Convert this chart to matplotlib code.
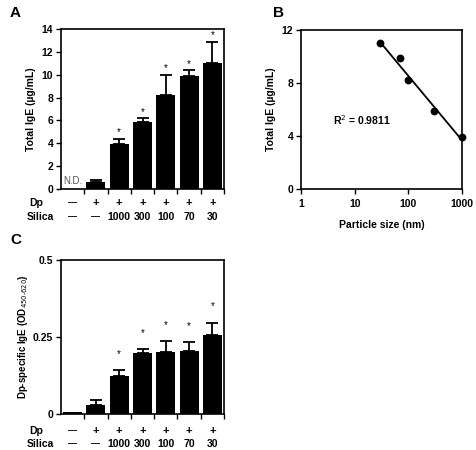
import matplotlib
matplotlib.use("Agg")
import matplotlib.pyplot as plt
import matplotlib.transforms as mtransforms
import numpy as np

plt.rcParams['font.family'] = ['Liberation Sans', 'DejaVu Sans']

# ---- data ----
groups = ["G1", "G2", "G3", "G4", "G5", "G6", "G7"]
dp_row = ["—", "+", "+", "+", "+", "+", "+"]
silica_row = ["—", "—", "1000", "300", "100", "70", "30"]

total_ige = [0.0, 0.65, 3.9, 5.85, 8.2, 9.85, 11.0]
total_ige_err = [0.0, 0.15, 0.5, 0.35, 1.8, 0.55, 1.9]
total_ige_star = [False, False, True, True, True, True, True]

dp_ige = [0.005, 0.028, 0.123, 0.198, 0.200, 0.206, 0.256]
dp_ige_err = [0.0, 0.016, 0.019, 0.012, 0.036, 0.027, 0.041]
dp_ige_star = [False, False, True, True, True, True, True]

particle_size = [1000, 300, 100, 70, 30]
size_ige = [3.9, 5.85, 8.2, 9.85, 11.0]
r2_text = "R$^2$ = 0.9811"

W, H = 477, 450
fig = plt.figure(figsize=(W / 100, H / 100), dpi=100)
PT = 72 / 100  # points per pixel


def px_axes(l, t, r, b):
    return fig.add_axes([l / W, 1 - b / H, (r - l) / W, (b - t) / H])


def bar_panel(ax, vals, errs, stars, ymax, yticks, yticklabels, ylabel, star_off,
              row1_px, row2_px, labelpad, ylabel_size, nd=False):
    x = np.arange(len(vals))
    ax.bar(x, vals, width=0.82, color="black", zorder=2)
    for xi, v, e in zip(x, vals, errs):
        if e > 0:
            ax.errorbar(xi, v, yerr=[[0], [e]], fmt="none", ecolor="black",
                        elinewidth=1.3, capsize=4, capthick=1.3, zorder=3)
    for xi, v, e, s in zip(x, vals, errs, stars):
        if s:
            ax.text(xi, v + e + star_off, "*", ha="center", va="center", fontsize=7)
    ax.set_xlim(-0.5, len(vals) - 0.5)
    ax.set_ylim(0, ymax)
    ax.set_yticks(yticks)
    ax.set_yticklabels(yticklabels, fontsize=7.5, fontweight="bold")
    ax.set_xticks(x + 0.5)
    ax.set_xticklabels([])
    ax.tick_params(axis="both", direction="out", length=3.5, width=1.0)
    ax.tick_params(axis="y", pad=2)
    for sp in ax.spines.values():
        sp.set_linewidth(1.2)
    ax.set_ylabel(ylabel, fontsize=ylabel_size, fontweight="bold", labelpad=labelpad)
    trans = mtransforms.blended_transform_factory(ax.transData, ax.transAxes)
    o1 = -row1_px * PT
    o2 = -row2_px * PT
    for xi, d, s in zip(x, dp_row, silica_row):
        ax.annotate(d, (xi, 0), xycoords=trans, xytext=(0, o1), textcoords="offset points",
                    ha="center", va="center", fontsize=6.5 if d == "—" else 8, fontweight="bold")
        ax.annotate(s, (xi, 0), xycoords=trans, xytext=(0, o2), textcoords="offset points",
                    ha="center", va="center", fontsize=6.5 if s == "—" else 7.5, fontweight="bold")
    ax.annotate("Dp", (0, 0), xycoords="axes fraction", xytext=(-13, o1),
                textcoords="offset points", ha="right", va="center", fontsize=7.5, fontweight="bold")
    ax.annotate("Silica", (0, 0), xycoords="axes fraction", xytext=(-5, o2),
                textcoords="offset points", ha="right", va="center", fontsize=7.5, fontweight="bold")
    if nd:
        ax.text(0, 0.25, "N.D.", ha="center", va="bottom", fontsize=7, color="#555555")


# Panel A
axA = px_axes(61, 29, 224, 189)
bar_panel(axA, total_ige, total_ige_err, total_ige_star, 14, [0, 2, 4, 6, 8, 10, 12, 14],
          ["0", "2", "4", "6", "8", "10", "12", "14"], "Total IgE (µg/mL)", 0.55,
          14, 28, 4, 7.5, nd=True)

# Panel C
axC = px_axes(61, 260, 224, 414)
bar_panel(axC, dp_ige, dp_ige_err, dp_ige_star, 0.5, [0, 0.25, 0.5], ["0", "0.25", "0.5"],
          "Dp-specific IgE (OD$_{450\u2010620}$)", 0.052, 17, 30, 2, 7)

# Panel B
axB = px_axes(301, 30, 462, 189)
axB.plot(particle_size, size_ige, "o", color="black", markersize=4.6, zorder=3, clip_on=False)
lx = np.log10(particle_size)
b, a = np.polyfit(lx, size_ige, 1)
xs = np.array([min(particle_size), max(particle_size)])
axB.plot(xs, a + b * np.log10(xs), color="black", lw=1.3)
axB.set_xscale("log")
axB.set_xlim(1, 1000)
axB.set_ylim(0, 12)
axB.set_xticks([1, 10, 100, 1000])
axB.set_xticklabels(["1", "10", "100", "1000"], fontsize=7.5, fontweight="bold")
axB.xaxis.set_minor_locator(matplotlib.ticker.NullLocator())
axB.set_yticks([0, 4, 8, 12])
axB.set_yticklabels(["0", "4", "8", "12"], fontsize=7.5, fontweight="bold")
axB.tick_params(axis="both", direction="out", length=3.5, width=1.0)
axB.tick_params(axis="y", pad=2)
for sp in axB.spines.values():
    sp.set_linewidth(1.2)
axB.set_ylabel("Total IgE (µg/mL)", fontsize=7.5, fontweight="bold", labelpad=4)
axB.set_xlabel("Particle size (nm)", fontsize=7.5, fontweight="bold", labelpad=8)
axB.text(4, 5.2, r2_text, fontsize=7.5, fontweight="bold", va="center", ha="left")

# Panel letters
fig.text(10 / W, 1 - 13 / H, "A", fontsize=11, fontweight="bold", va="center", ha="left")
fig.text(273 / W, 1 - 13 / H, "B", fontsize=11, fontweight="bold", va="center", ha="left")
fig.text(10 / W, 1 - 240 / H, "C", fontsize=11, fontweight="bold", va="center", ha="left")

fig.savefig("out.png", dpi=100)
